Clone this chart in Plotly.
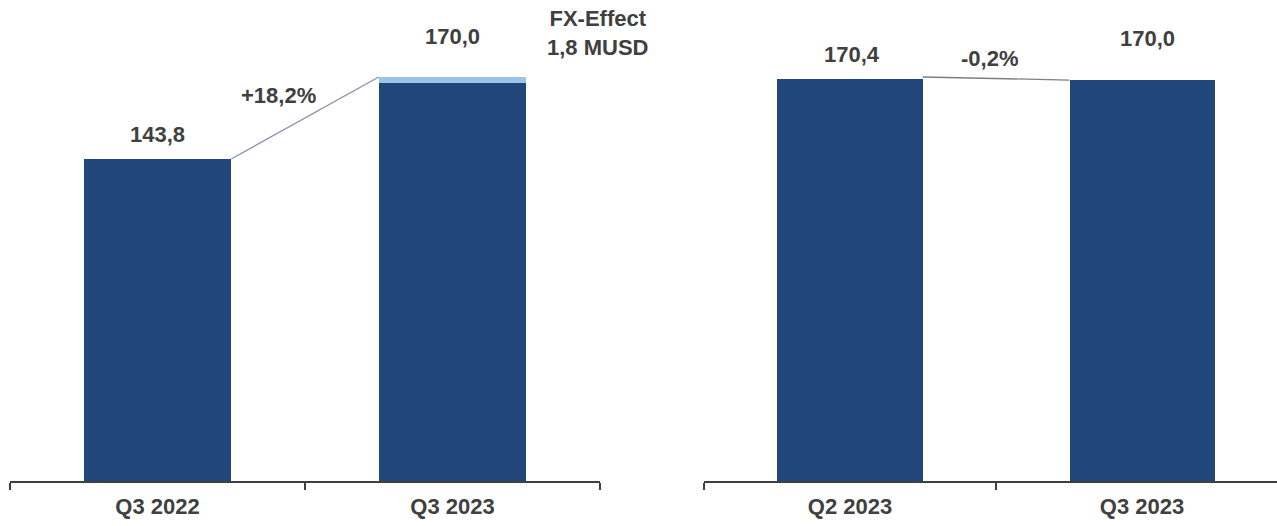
import plotly.graph_objects as go

# ---- data ----
left_categories = ["Q3 2022", "Q3 2023"]
left_totals = [143.8, 170.0]
left_fx = [0.0, 1.8]
right_categories = ["Q2 2023", "Q3 2023"]
right_totals = [170.4, 170.0]
fx_label_lines = ["FX-Effect", "{fx} MUSD"]

NAVY = "#21467A"
LIGHT = "#9DC3E6"
TEXT = "#404040"
AXIS = "#3F3F3F"
FONT = "Liberation Sans"


def fmt(v, dec=1):
    return f"{v:.{dec}f}".replace(".", ",")


def pct(a, b):
    p = (b / a - 1) * 100
    s = "+" if p > 0 else "-"
    return f"{s}{fmt(abs(p))}%"


fig = go.Figure()

BW_L = 0.50
BW_R = 0.497

# left chart: dark part (total minus fx) + light fx part
fig.add_trace(go.Bar(x=left_categories, y=[t - f for t, f in zip(left_totals, left_fx)],
                     marker=dict(color=NAVY, line=dict(width=0)), width=BW_L,
                     xaxis="x", yaxis="y", showlegend=False, hoverinfo="skip"))
fig.add_trace(go.Bar(x=left_categories, y=left_fx,
                     marker=dict(color=LIGHT, line=dict(width=0)), width=BW_L,
                     xaxis="x", yaxis="y", showlegend=False, hoverinfo="skip"))
# right chart
fig.add_trace(go.Bar(x=right_categories, y=right_totals,
                     marker=dict(color=NAVY, line=dict(width=0)), width=BW_R,
                     xaxis="x2", yaxis="y2", showlegend=False, hoverinfo="skip"))

W = 1277
axis_common = dict(
    type="category", tickson="boundaries", showline=True, linecolor=AXIS, linewidth=2,
    ticks="outside", ticklen=7, tickwidth=2, tickcolor=AXIS, showgrid=False, zeroline=False,
    ticklabelstandoff=5,
    tickfont=dict(family=FONT, size=22, color=TEXT, weight="bold"), fixedrange=True,
)

fig.update_layout(
    width=W, height=526, margin=dict(l=0, r=0, t=0, b=45),
    paper_bgcolor="white", plot_bgcolor="white", barmode="stack", bargap=0,
    xaxis=dict(domain=[10 / W, 600 / W], range=[-0.5, 1.5], anchor="y", **axis_common),
    yaxis=dict(domain=[0, 1], range=[40.9, 194.6], visible=False, anchor="x"),
    xaxis2=dict(domain=[704 / W, 1], range=[-0.5, 1.462], anchor="y2", **axis_common),
    yaxis2=dict(domain=[0, 1], range=[41.9, 195.6], visible=False, anchor="x2"),
)

afont = dict(family=FONT, size=22, color=TEXT, weight="bold")

# value labels
left_shift = [24, 40]
for i, (c, t) in enumerate(zip(left_categories, left_totals)):
    fig.add_annotation(x=i, y=t, xref="x", yref="y", text=fmt(t), showarrow=False,
                       font=afont, yshift=left_shift[i])
right_shift = [24, 42]
right_xshift = [2, 5]
for i, (c, t) in enumerate(zip(right_categories, right_totals)):
    fig.add_annotation(x=i, y=t, xref="x2", yref="y2", text=fmt(t), showarrow=False,
                       font=afont, yshift=right_shift[i], xshift=right_xshift[i])

# connector lines
x0, x1 = 0 + BW_L / 2, 1 - BW_L / 2
y0, y1 = left_totals[0], left_totals[1]
fig.add_shape(type="line", xref="x", yref="y", x0=x0, x1=x1, y0=y0, y1=y1,
              line=dict(color="#8A8DAE", width=1.3))
fig.add_annotation(x=0.5, y=(y0 + y1) / 2, xref="x", yref="y", text=pct(y0, y1),
                   showarrow=False, font=afont, xshift=-27, yshift=22)

rx0, rx1 = 0 + BW_R / 2, 1 - BW_R / 2
ry0, ry1 = right_totals[0], right_totals[1]
fig.add_shape(type="line", xref="x2", yref="y2", x0=rx0, x1=rx1, y0=ry0 + 0.6, y1=ry1,
              line=dict(color="#7F7F7F", width=1.3))
fig.add_annotation(x=0.5, y=(ry0 + ry1) / 2, xref="x2", yref="y2", text=pct(ry0, ry1),
                   showarrow=False, font=afont, xshift=-7, yshift=21)

# FX effect label
fx_text = "<br>".join(fx_label_lines).format(fx=fmt(left_fx[1]))
fig.add_annotation(x=1.49, y=left_totals[1], xref="x", yref="y", text=fx_text,
                   showarrow=False, font=afont, yshift=44, align="center")

fig.write_html("out.html")
